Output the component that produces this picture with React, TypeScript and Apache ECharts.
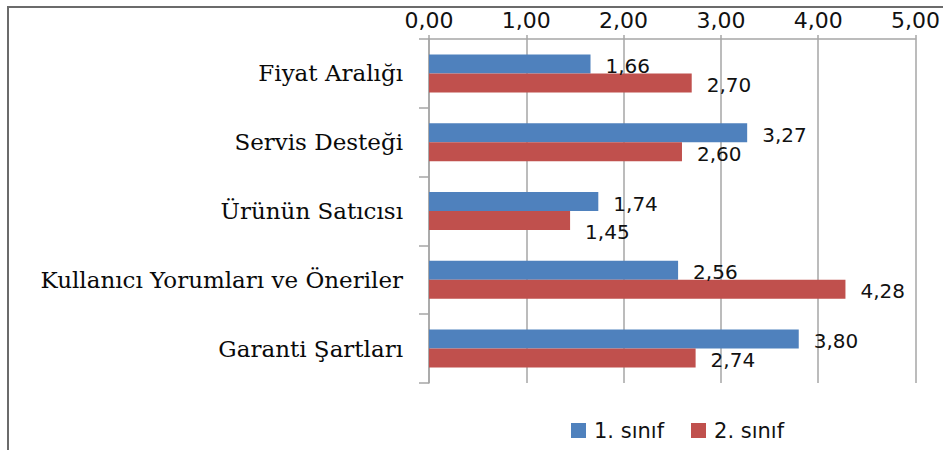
import React, { useEffect, useRef } from "react";
import * as echarts from "echarts";

const categories = [
  "Fiyat Aralığı",
  "Servis Desteği",
  "Ürünün Satıcısı",
  "Kullanıcı Yorumları ve Öneriler",
  "Garanti Şartları",
];
const seriesNames = ["1. sınıf", "2. sınıf"];
const sinif1 = [1.66, 3.27, 1.74, 2.56, 3.8];
const sinif2 = [2.7, 2.6, 1.45, 4.28, 2.74];
const xTicks = [0, 1, 2, 3, 4, 5];

const fmt = (v: number) => v.toFixed(2).replace(".", ",");

export default function App() {
  const ref = useRef<HTMLDivElement>(null);
  useEffect(() => {
    if (!ref.current) return;
    const chart = echarts.init(ref.current, undefined, { renderer: "svg" });
    const labelBase = {
      show: true,
      position: "right" as const,
      distance: 15,
      offset: [0, 2],
      fontFamily: "DejaVu Sans",
      fontSize: 20,
      color: "#111111",
      formatter: (p: any) => fmt(p.value),
    };
    const shift2: Record<number, number[]> = { 2: [0, 11] };
    chart.setOption({
      animation: false,
      backgroundColor: "#ffffff",
      graphic: [
        {
          type: "rect",
          shape: { x: 8, y: 7, width: 980, height: 480 },
          style: { fill: "none", stroke: "#6b6b6b", lineWidth: 2 },
          silent: true,
        },
      ],
      grid: { left: 429, right: 22, top: 39, bottom: 67, containLabel: false },
      legend: {
        data: seriesNames,
        left: 566,
        top: 415,
        itemWidth: 15,
        itemHeight: 15,
        itemGap: 27,
        icon: "rect",
        textStyle: {
          fontFamily: "DejaVu Sans",
          fontSize: 21,
          color: "#111111",
          padding: [0, 0, 0, 3],
        },
      },
      xAxis: {
        type: "value",
        position: "top",
        min: xTicks[0],
        max: xTicks[xTicks.length - 1],
        interval: 1,
        axisLine: { show: true, lineStyle: { color: "#a6a6a6", width: 1.5 } },
        axisTick: { show: true, length: 4, lineStyle: { color: "#a6a6a6", width: 1.5 } },
        splitLine: { show: true, lineStyle: { color: "#a6a6a6", width: 1.5 } },
        axisLabel: {
          margin: 8,
          fontFamily: "DejaVu Sans",
          fontSize: 22,
          color: "#111111",
          formatter: (v: number) => fmt(v),
        },
      },
      yAxis: {
        type: "category",
        inverse: true,
        data: categories,
        axisLine: { show: true, lineStyle: { color: "#a6a6a6", width: 1.5 } },
        axisTick: { show: true, length: 10, lineStyle: { color: "#a6a6a6", width: 1.5 } },
        splitLine: { show: false },
        axisLabel: {
          margin: 26,
          fontFamily: "DejaVu Serif",
          fontSize: 23,
          color: "#0a0a0a",
        },
      },
      series: [
        {
          name: seriesNames[0],
          type: "bar",
          barWidth: 19,
          barGap: "0%",
          itemStyle: { color: "#4F81BD" },
          label: labelBase,
          data: sinif1,
        },
        {
          name: seriesNames[1],
          type: "bar",
          barWidth: 19,
          barGap: "0%",
          itemStyle: { color: "#C0504D" },
          label: labelBase,
          data: sinif2.map((v, i) =>
            shift2[i] ? { value: v, label: { offset: shift2[i] } } : v
          ),
        },
      ],
    });
    return () => chart.dispose();
  }, []);
  return (
    <div
      ref={ref}
      style={{ position: "absolute", left: 0, top: 0, width: 943, height: 450 }}
    />
  );
}
